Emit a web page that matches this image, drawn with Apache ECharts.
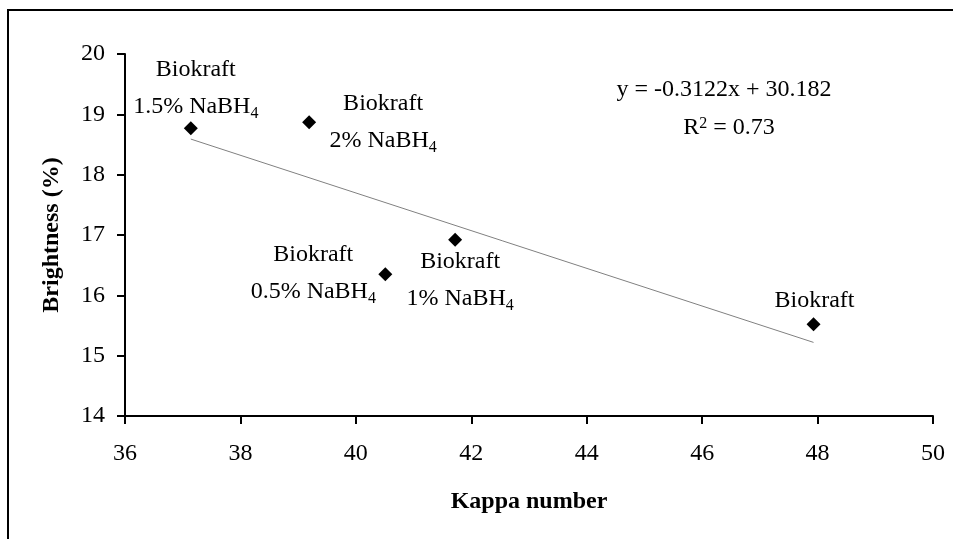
<!DOCTYPE html>
<html>
<head>
<meta charset="utf-8">
<script src="https://cdn.jsdelivr.net/npm/echarts@6/dist/echarts.min.js"></script>
<style>
  html, body { margin: 0; padding: 0; background: #fff; }
  #chart { width: 953px; height: 539px; }
</style>
</head>
<body>
<div id="chart"></div>
<script>
// values
const kappa = [37.14, 39.19, 40.51, 41.72, 47.93];
const brightness = [18.77, 18.87, 16.35, 16.92, 15.52];
const pointLabels = [
  'Biokraft\n1.5% NaBH{sub|4}',
  'Biokraft\n2% NaBH{sub|4}',
  'Biokraft\n0.5% NaBH{sub|4}',
  'Biokraft\n1% NaBH{sub|4}',
  'Biokraft'
];
// linear trendline end points
const trendKappa = [37.14, 47.93];
const trendBrightness = [18.59, 15.22];
const equationText = 'y = -0.3122x + 30.182';
const r2Text = 'R{sup|2} = 0.73';

// where each label sits relative to its point (px)
const labelOffsets = [[5, -40], [74, 0], [-72, -1], [5, 40], [1, -24]];

const font = 'Liberation Serif';

let chart = echarts.init(document.getElementById('chart'));

let points = kappa.map((k, i) => ({
  value: [k, brightness[i]],
  label: {formatter: pointLabels[i], offset: labelOffsets[i]}
}));

chart.setOption({
  animation: false,
  grid: {left: 125, right: 20, top: 54, bottom: 123},
  xAxis: {
    type: 'value',
    min: 36,
    max: 50,
    interval: 2,
    name: 'Kappa number',
    nameLocation: 'middle',
    nameGap: 74,
    nameTextStyle: {fontFamily: font, fontSize: 24, fontWeight: 'bold', color: '#000'},
    axisLine: {onZero: false, lineStyle: {color: '#000', width: 2}},
    axisTick: {length: 8, lineStyle: {color: '#000', width: 2}},
    axisLabel: {fontFamily: font, fontSize: 24, color: '#000', margin: 26},
    splitLine: {show: false}
  },
  yAxis: {
    type: 'value',
    min: 14,
    max: 20,
    interval: 1,
    name: 'Brightness (%)',
    nameLocation: 'middle',
    nameGap: 61,
    nameTextStyle: {fontFamily: font, fontSize: 24, fontWeight: 'bold', color: '#000'},
    axisLine: {onZero: false, lineStyle: {color: '#000', width: 2}},
    axisTick: {length: 8, lineStyle: {color: '#000', width: 2}},
    axisLabel: {fontFamily: font, fontSize: 24, color: '#000', margin: 20},
    splitLine: {show: false}
  },
  graphic: [
    {
      type: 'rect',
      silent: true,
      z: -10,
      shape: {x: 8, y: 10, width: 1000, height: 1000},
      style: {fill: 'none', stroke: '#000', lineWidth: 2}
    },
    {
      type: 'text',
      x: 724,
      y: 90,
      style: {text: equationText, font: '24px "Liberation Serif"', fill: '#000', align: 'center', verticalAlign: 'middle'}
    },
    {
      type: 'text',
      x: 729,
      y: 128,
      style: {
        text: r2Text, font: '24px "Liberation Serif"', fill: '#000', align: 'center', verticalAlign: 'middle',
        rich: {sup: {fontSize: 16, fontFamily: font, verticalAlign: 'top', padding: [0, 0, 6, 0]}}
      }
    }
  ],
  series: [
    {
      type: 'line',
      data: trendKappa.map((k, i) => [k, trendBrightness[i]]),
      showSymbol: false,
      silent: true,
      z: 1,
      lineStyle: {color: '#808080', width: 1}
    },
    {
      type: 'scatter',
      data: points,
      symbol: 'diamond',
      symbolSize: 14,
      z: 2,
      itemStyle: {color: '#000', opacity: 1},
      label: {
        show: true,
        position: 'inside',
        color: '#000',
        fontFamily: font,
        fontSize: 24,
        lineHeight: 37,
        align: 'center',
        rich: {
          sub: {fontSize: 16, fontFamily: font, color: '#000', lineHeight: 16, verticalAlign: 'bottom', padding: [0, 0, 3, 0]}
        }
      }
    }
  ]
});
</script>
</body>
</html>
